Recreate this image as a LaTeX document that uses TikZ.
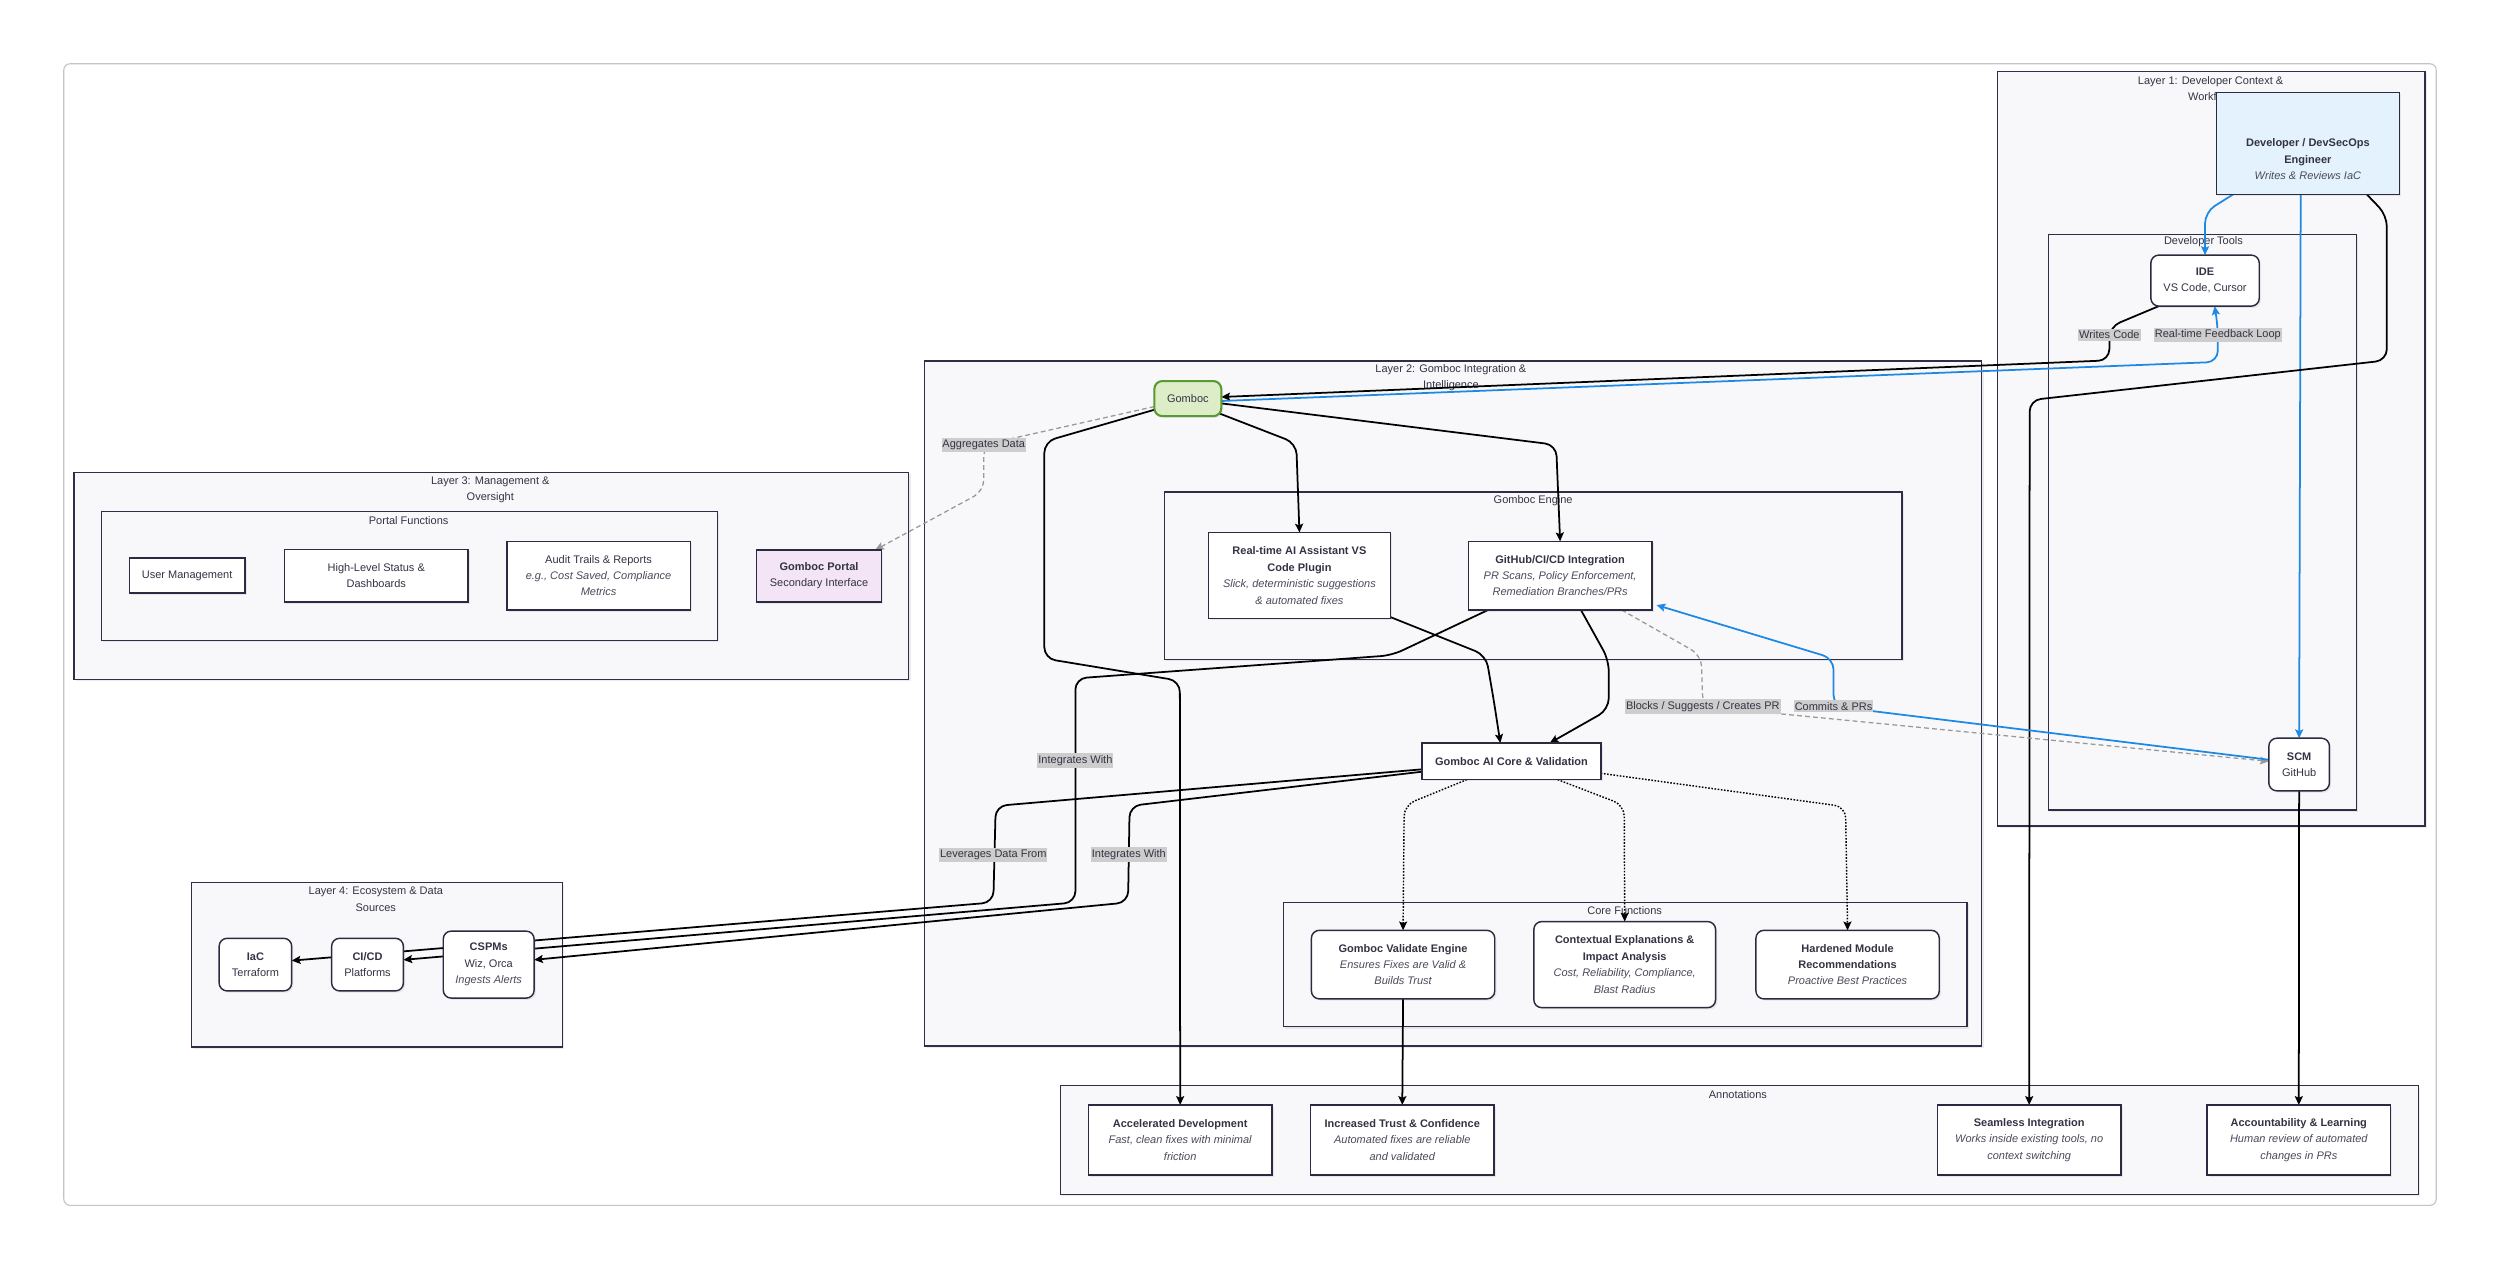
\documentclass[tikz,border=0pt]{standalone}
\usepackage{fontspec}
\setmainfont{Liberation Sans}
\usetikzlibrary{arrows.meta,calc,shadows}
\definecolor{clfill}{HTML}{F8F8FA}
\definecolor{cldraw}{HTML}{2E2E48}
\definecolor{ndraw}{HTML}{2A2A40}
\definecolor{txt}{HTML}{333344}
\definecolor{itx}{HTML}{4A4A5A}
\definecolor{blueE}{HTML}{1E88E5}
\definecolor{gfill}{HTML}{DCEDC8}
\definecolor{gdraw}{HTML}{5B9A32}
\definecolor{devfill}{HTML}{E3F2FD}
\definecolor{pfill}{HTML}{F3E5F5}
\definecolor{lblfill}{HTML}{CDCDCD}
\definecolor{framec}{HTML}{C4C4C4}
\definecolor{dgray}{HTML}{999999}
\newcommand\fs{\fontsize{6.9}{10.3}\selectfont}
\newcommand\emt[1]{{\color{itx}\itshape #1}}
\begin{document}
\begin{tikzpicture}[x=1pt,y=-1pt,
 shd/.style={drop shadow={shadow xshift=1.1pt,shadow yshift=-1.1pt,opacity=0.12,fill=black!60}},
 cluster/.style={draw=cldraw,fill=clfill,line width=0.8pt,shd},
 ctitle/.style={font=\fs,text=txt,align=center,inner sep=0pt},
 box/.style={draw=ndraw,fill=white,line width=0.9pt,font=\fs,text=txt,align=center,inner sep=0pt,shd},
 rbox/.style={box,rounded corners=5pt},
 tip/.style={-{Stealth[length=5.5pt,width=5pt,inset=1pt]}},
 blk/.style={line width=1.1pt,rounded corners=7pt,tip},
 blueedge/.style={blk,draw=blueE},
 dashE/.style={line width=0.8pt,draw=dgray,dash pattern=on 3pt off 2pt,rounded corners=7pt,-{Stealth[length=5.5pt,width=5pt,inset=1pt,fill=dgray]}},
 dotE/.style={line width=0.9pt,dash pattern=on 1pt off 1pt,rounded corners=7pt,tip},
 elabel/.style={fill=lblfill,font=\fs,text=txt,inner xsep=0.6pt,inner ysep=1.3pt},
]
\useasboundingbox (0,0) rectangle (1568,797);
\fill[white] (0,0) rectangle (1568,797);
\draw[draw=framec,line width=0.7pt,rounded corners=4pt,fill=white] (40,40) rectangle (1528,756);

% clusters
\draw[cluster] (1253,45) rectangle (1521,518);
\draw[cluster] (1285,147) rectangle (1478,508);
\draw[cluster] (580,226.5) rectangle (1243,656);
\draw[cluster] (730.5,308.6) rectangle (1193,413.5);
\draw[cluster] (805,566) rectangle (1233.7,644);
\draw[cluster] (46.4,296.5) rectangle (570,426);
\draw[cluster] (63.7,321) rectangle (450,401.5);
\draw[cluster] (120.2,553.7) rectangle (352.8,656.6);
\draw[cluster] (665,681) rectangle (1516.8,749);

\node[ctitle] (t1) at (1386.5,55.5) {Layer 1: Developer Context \&\\Workflow};
\node[ctitle] (tdt) at (1382,151.8) {Developer Tools};
\node[ctitle] (t2) at (910,237) {Layer 2: Gomboc Integration \&\\Intelligence};
\node[ctitle] (tge) at (961.6,314) {Gomboc Engine};
\node[ctitle] (tcf) at (1019,571) {Core Functions};
\node[ctitle] (t3) at (307.5,307.2) {Layer 3: Management \&\\Oversight};
\node[ctitle] (tpf) at (256.3,326.8) {Portal Functions};
\node[ctitle] (t4) at (235.7,563.9) {Layer 4: Ecosystem \& Data\\Sources};
\node[ctitle] (tan) at (1090,686.7) {Annotations};

\path
 (1447.5,90) coordinate (cdev)
 (1383,176) coordinate (cide)
 (1442,479.5) coordinate (cscm)
 (745,250) coordinate (cgom)
 (815,361) coordinate (crt)
 (978.5,361) coordinate (cgh)
 (948,477.5) coordinate (ccore)
 (880,605) coordinate (cval)
 (1019,605) coordinate (cctx)
 (1158.8,605) coordinate (chard)
 (117.4,361) coordinate (cum)
 (236,361) coordinate (chls)
 (375.4,361) coordinate (caud)
 (513.7,361.2) coordinate (cport)
 (160.2,605) coordinate (ciac)
 (230.5,605) coordinate (ccicd)
 (306.5,605) coordinate (ccspm)
 (740.2,715) coordinate (cacc)
 (879.5,715) coordinate (cinc)
 (1272.7,715) coordinate (cseam)
 (1441.8,715) coordinate (cacct);

\begin{scope}[every node/.style={inner sep=0pt,outer sep=0pt}]
\node[minimum width=115,minimum height=64] (dev) at (cdev) {};
\node[minimum width=68,minimum height=32] (ide) at (cide) {};
\node[minimum width=38,minimum height=33] (scm) at (cscm) {};
\node[minimum width=42,minimum height=22] (gomboc) at (cgom) {};
\node[minimum width=114,minimum height=54] (rt) at (crt) {};
\node[minimum width=115,minimum height=43] (gh) at (cgh) {};
\node[minimum width=112,minimum height=23] (core) at (ccore) {};
\node[minimum width=115,minimum height=43] (val) at (cval) {};
\node[minimum width=114,minimum height=54] (ctx) at (cctx) {};
\node[minimum width=115,minimum height=43] (hard) at (chard) {};
\node[minimum width=78.4,minimum height=32.5] (portal) at (cport) {};
\node[minimum width=45.5,minimum height=33] (iac) at (ciac) {};
\node[minimum width=45,minimum height=33] (cicd) at (ccicd) {};
\node[minimum width=57,minimum height=42] (cspm) at (ccspm) {};
\node[minimum width=115,minimum height=44] (acc) at (cacc) {};
\node[minimum width=115,minimum height=44] (inc) at (cinc) {};
\node[minimum width=115,minimum height=44] (seam) at (cseam) {};
\node[minimum width=115,minimum height=44] (acct) at (cacct) {};
\end{scope}

% edges
\draw[blueedge] ($(dev.south)+(-47,0)$) -- (1383,133) -- (ide.north);
\draw[blueedge] ($(dev.south)+(-4.5,0)$) -- (scm.north);
\draw[blk] ($(dev.south)+(37,0)$) -- (1497,135) -- (1497,226) -- (1273,251) -- (seam.north);
\draw[blk] ($(ide.south)+(-29,0)$) -- (1323,205) -- (1323,226) -- ($(gomboc.east)+(0,-1)$);
\draw[blueedge] ($(gomboc.east)+(0,1.5)$) -- (1391,227) -- (1391,205) -- ($(ide.south)+(6,0)$);
\draw[blk] ($(gomboc.south east)+(-2,-2)$) -- (813,278) -- (rt.north);
\draw[blk] ($(gomboc.east)+(0,3)$) -- (976,279) -- (gh.north);
\draw[blk] ($(gomboc.west)+(0,7)$) -- (655,277) -- (655,413) -- (740,427) -- (acc.north);
\draw[dashE] ($(gomboc.west)+(0,5)$) -- (617,279) -- (617,308) -- ($(portal.north east)+(-4,0)$);
\draw[blk] ($(rt.south east)+(0,-1)$) -- (932,411) -- (937,440) -- ($(core.north)+(-7,0)$);
\draw[blk] ($(gh.south)+(13,0)$) -- (1009,414) -- (1009,445) -- ($(core.north)+(24,0)$);
\draw[blk] ($(gh.south)+(-45,0)$) -- (873,411) -- (674.5,425.5) -- (674.5,566) -- ($(cicd.east)+(0,-3)$);
\draw[blk] ($(core.west)+(0,5)$) -- (624.5,505.5) -- (623,566) -- ($(iac.east)+(0,-2.5)$);
\draw[blk] ($(core.west)+(0,6.5)$) -- (708.5,505.5) -- (707.5,566) -- ($(cspm.east)+(0,-3)$);
\draw[dotE] ($(core.south)+(-28,0)$) -- (880.7,505) -- (val.north);
\draw[dotE] ($(core.south)+(29,0)$) -- (1018.7,505) -- (ctx.north);
\draw[dotE] ($(core.east)+(0,7.5)$) -- (1157.5,506) -- (hard.north);
\draw[blk] (val.south) -- (inc.north);
\draw[blk] (scm.south) -- (acct.north);
\draw[dashE] ($(gh.south east)+(-19,0)$) -- (1067,411) -- (1068,443) -- ($(scm.west)+(0,-2)$);
\draw[blueedge] ($(scm.west)+(0,-3)$) -- (1150,443) -- (1150,413) -- ($(gh.south east)+(3,-3)$);

% visible nodes
\node[box,fill=devfill,minimum width=115,minimum height=64] (devbox) at (cdev) {};
\node[ctitle] (devtxt) at (1447.5,100) {\textbf{Developer / DevSecOps}\\\textbf{Engineer}\\\emt{Writes \& Reviews IaC}};
\node[rbox,minimum width=68,minimum height=32] (idebox) at (cide) {\textbf{IDE}\\VS Code, Cursor};
\node[rbox,minimum width=38,minimum height=33] (scmbox) at (cscm) {\textbf{SCM}\\GitHub};
\node[rbox,fill=gfill,draw=gdraw,line width=1.3pt,minimum width=42,minimum height=22] (gombox) at (cgom) {Gomboc};
\node[box,minimum width=114,minimum height=54] (rtbox) at (crt) {\textbf{Real-time AI Assistant VS}\\\textbf{Code Plugin}\\\emt{Slick, deterministic suggestions}\\\emt{\& automated fixes}};
\node[box,minimum width=115,minimum height=43] (ghbox) at (cgh) {\textbf{GitHub/CI/CD Integration}\\\emt{PR Scans, Policy Enforcement,}\\\emt{Remediation Branches/PRs}};
\node[box,minimum width=112,minimum height=23] (corebox) at (ccore) {\textbf{Gomboc AI Core \& Validation}};
\node[rbox,minimum width=115,minimum height=43] (valbox) at (cval) {\textbf{Gomboc Validate Engine}\\\emt{Ensures Fixes are Valid \&}\\\emt{Builds Trust}};
\node[rbox,minimum width=114,minimum height=54] (ctxbox) at (cctx) {\textbf{Contextual Explanations \&}\\\textbf{Impact Analysis}\\\emt{Cost, Reliability, Compliance,}\\\emt{Blast Radius}};
\node[rbox,minimum width=115,minimum height=43] (hardbox) at (chard) {\textbf{Hardened Module}\\\textbf{Recommendations}\\\emt{Proactive Best Practices}};
\node[box,minimum width=72.4,minimum height=22] (um) at (cum) {User Management};
\node[box,minimum width=115,minimum height=33] (hls) at (chls) {High-Level Status \&\\Dashboards};
\node[box,minimum width=115,minimum height=43] (audit) at (caud) {Audit Trails \& Reports\\\emt{e.g., Cost Saved, Compliance}\\\emt{Metrics}};
\node[box,fill=pfill,minimum width=78.4,minimum height=32.5] (portbox) at (cport) {\textbf{Gomboc Portal}\\Secondary Interface};
\node[rbox,minimum width=45.5,minimum height=33] (iacbox) at (ciac) {\textbf{IaC}\\Terraform};
\node[rbox,minimum width=45,minimum height=33] (cicdbox) at (ccicd) {\textbf{CI/CD}\\Platforms};
\node[rbox,minimum width=57,minimum height=42] (cspmbox) at (ccspm) {\textbf{CSPMs}\\Wiz, Orca\\\emt{Ingests Alerts}};
\node[box,minimum width=115,minimum height=44] (accbox) at (cacc) {\textbf{Accelerated Development}\\\emt{Fast, clean fixes with minimal}\\\emt{friction}};
\node[box,minimum width=115,minimum height=44] (incbox) at (cinc) {\textbf{Increased Trust \& Confidence}\\\emt{Automated fixes are reliable}\\\emt{and validated}};
\node[box,minimum width=115,minimum height=44] (seambox) at (cseam) {\textbf{Seamless Integration}\\\emt{Works inside existing tools, no}\\\emt{context switching}};
\node[box,minimum width=115,minimum height=44] (acctbox) at (cacct) {\textbf{Accountability \& Learning}\\\emt{Human review of automated}\\\emt{changes in PRs}};

% edge labels
\node[elabel] (lwc) at (1323,210) {Writes Code};
\node[elabel] (lrf) at (1391,210) {Real-time Feedback Loop};
\node[elabel] (lad) at (617,279) {Aggregates Data};
\node[elabel] (liw1) at (674.5,477) {Integrates With};
\node[elabel] (lld) at (623,536) {Leverages Data From};
\node[elabel] (liw2) at (708,536) {Integrates With};
\node[elabel] (lbs) at (1068,443) {Blocks / Suggests / Creates PR};
\node[elabel] (lcp) at (1150,443) {Commits \& PRs};
\end{tikzpicture}
\end{document}
